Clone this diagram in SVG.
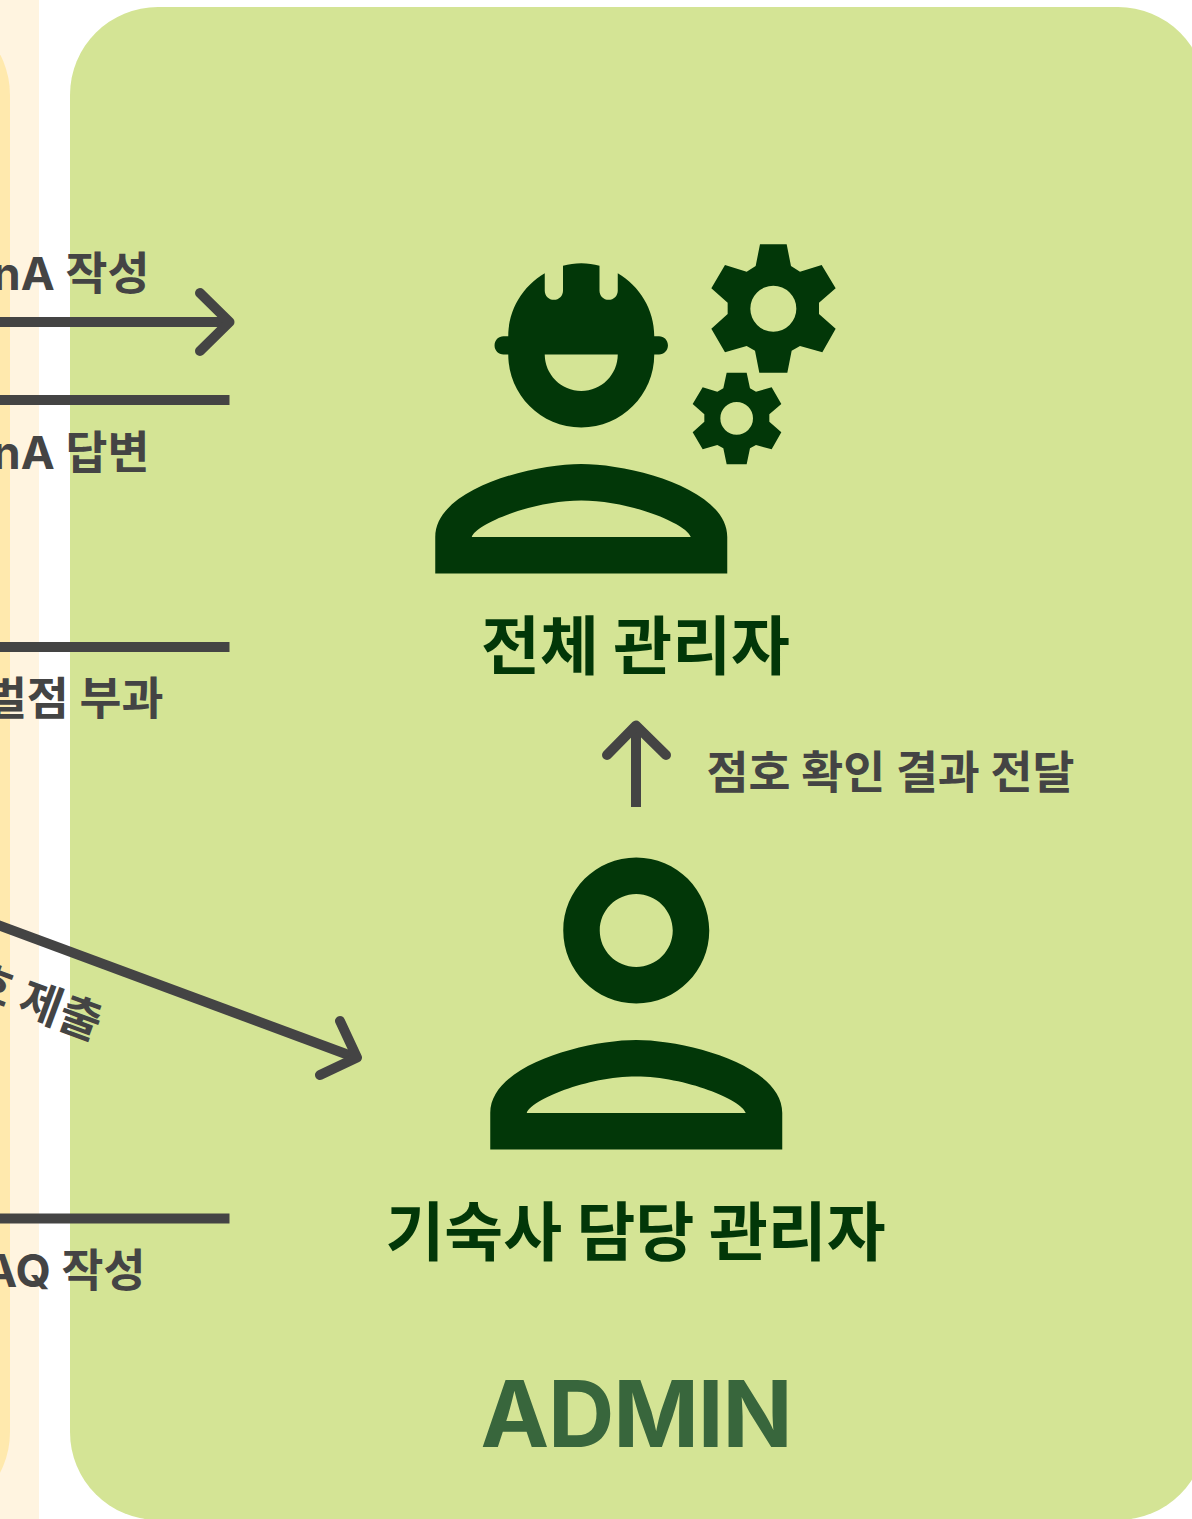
<svg xmlns="http://www.w3.org/2000/svg" width="1192" height="1519" viewBox="0 0 1192 1519">
<style>
.lbl{font-family:"Inter","Noto Sans CJK KR",sans-serif;font-weight:700;font-size:45.600px;fill:#444444;text-anchor:end}
.ttl{font-family:"Noto Sans CJK KR",sans-serif;font-weight:700;font-size:64px;fill:#023708;text-anchor:middle}
.ln{stroke:#444444;stroke-width:10;fill:none}
.hd{stroke:#444444;stroke-width:10;fill:none;stroke-linecap:round;stroke-linejoin:round}
.ic{fill:#023708}
</style>
<g id="panels">
<rect x="-200" y="-20" width="239" height="1560" fill="#FFF4E0"/>
<rect x="-300" y="7" width="310" height="1513" rx="88" fill="#FFE9AD"/>
<rect x="70" y="7" width="1136" height="1513" rx="88" fill="#D4E495"/>
</g>
<g id="connectors">
<path class="ln" d="M-10 322H228"/><path class="hd" d="M200 293L229.500 322L200 351"/>
<path class="ln" d="M-10 400H229.500"/>
<path class="ln" d="M-10 647H229.500"/>
<path class="ln" d="M-10 1218.500H229.500"/>
<path class="ln" d="M-10 922L354 1057"/><path class="hd" d="M340 1021L357 1057.500L320 1075"/>
<path class="ln" d="M636 807V728"/><path class="hd" d="M607 755L636 725.500L666 755"/>
</g>
<g id="labels">
<text class="lbl" x="149.500" y="290">QnA 작성</text>
<text class="lbl" x="149.500" y="468.500">QnA 답변</text>
<text class="lbl" x="163.500" y="715">벌점 부과</text>
<text class="lbl" x="145.500" y="1287">FAQ 작성</text>
<text class="lbl" transform="translate(94.500 1040.500) rotate(20.300)" x="0" y="0">점호 제출</text>
<text class="lbl" style="text-anchor:start" x="706.500" y="788.500">점호 확인 결과 전달</text>
</g>
<g id="super-admin">
<g class="ic" transform="translate(417 190.250) scale(18.250)">
<path fill-rule="evenodd" d="M9 15c-2.670 0-8 1.340-8 4v2h16v-2c0-2.660-5.330-4-8-4zm-6 4c.22-.72 3.310-2 6-2 2.700 0 5.800 1.290 6 2H3z"/>
<path d="M4.740 9H5c0 2.210 1.790 4 4 4s4-1.790 4-4h.26c.27 0 .49-.22.49-.49v-.02c0-.27-.22-.49-.49-.49H13c0-1.480-.81-2.750-2-3.450v.95c0 .28-.22.5-.5.5s-.5-.22-.5-.5V4.140C9.680 4.060 9.350 4 9 4s-.68.06-1 .14V5.500c0 .28-.22.5-.5.5S7 5.780 7 5.500v-.95C5.810 5.250 5 6.520 5 8h-.26c-.27 0-.49.22-.49.49v.03c0 .26.22.48.49.48z"/>
<path fill="#D4E495" d="M7 9h4c0 1.100-.9 2-2 2s-2-.9-2-2z"/>
</g>
<g class="ic" transform="translate(420 230) scale(.33333)">
<path fill-rule="evenodd" d="M1020 43H1100L1113 108L1140 125L1205 105L1247 175L1197 218V252L1247 296L1207 367L1140 348L1115 362L1102 428H1018L1005 362L980 348L915 367L874 296L923 252V218L874 175L915 105L980 125L1007 108ZM1060 167A69 69 0 1 0 1060 305A69 69 0 1 0 1060 167Z"/>
<path fill-rule="evenodd" d="M920 428H980L990 475L1008 485L1055 472L1084 522L1048 553V575L1084 607L1055 658L1008 645L990 655L980 703H920L910 655L892 645L848 658L818 607L853 575V553L818 522L848 472L892 485L910 475ZM950 516A49 49 0 1 0 950 614A49 49 0 1 0 950 516Z"/>
</g>
<text class="ttl" x="635.500" y="669">전체 관리자</text>
</g>
<g id="dorm-admin">
<path class="ic" fill-rule="evenodd" transform="translate(417.250 784.500) scale(18.250)" d="M12 6c1.100 0 2 .9 2 2s-.9 2-2 2-2-.9-2-2 .9-2 2-2m0 10c2.700 0 5.800 1.290 6 2H6c.23-.72 3.310-2 6-2m0-12C9.790 4 8 5.790 8 8s1.790 4 4 4 4-1.790 4-4-1.790-4-4-4zm0 10c-2.670 0-8 1.340-8 4v2h16v-2c0-2.660-5.330-4-8-4z"/>
<text class="ttl" x="635.500" y="1255">기숙사 담당 관리자</text>
</g>
<g id="admin-title">
<text x="636" y="1447" text-anchor="middle" style="font-family:'Inter',sans-serif;font-weight:700;font-size:92px;letter-spacing:-1.200px;fill:#38663C">ADMIN</text>
</g>
</svg>
